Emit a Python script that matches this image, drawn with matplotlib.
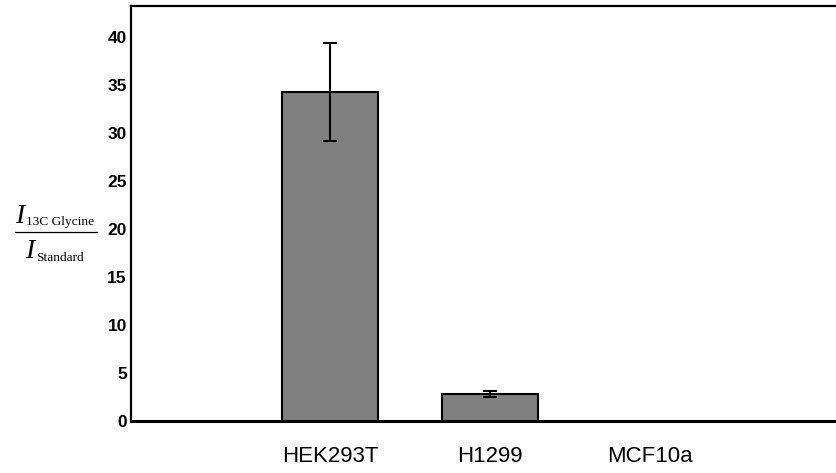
import matplotlib
matplotlib.use("Agg")
import matplotlib.pyplot as plt
from matplotlib.lines import Line2D

categories = ["HEK293T", "H1299", "MCF10a"]
values = [34.2, 2.8, 0.0]
errors = [5.1, 0.35, 0.0]
yticks = [0, 5, 10, 15, 20, 25, 30, 35, 40]

plt.rcParams['font.family'] = ['Liberation Sans', 'DejaVu Sans']

W, H = 836, 473
fig = plt.figure(figsize=(W/100, H/100), dpi=100)
ax = fig.add_axes([131/W, 1-421/H, 1-131/W, (421-6)/H])

x = [1, 2, 3]
ax.bar(x[:2], values[:2], width=0.6, color='#808080', edgecolor='black', linewidth=1.5,
       yerr=errors[:2], capsize=5, error_kw=dict(elinewidth=1.5, capthick=1.5, ecolor='black'))

ax.set_xlim(1 - 199/160, 1 + 506/160)
ax.set_ylim(0, 43.2)
ax.set_xticks(x)
ax.set_xticklabels(categories, fontsize=16)
ax.set_yticks(yticks)
ax.set_yticklabels([str(t) for t in yticks], fontsize=12.5, fontweight='bold')
ax.tick_params(axis='both', length=0)
ax.tick_params(axis='x', pad=18)
ax.tick_params(axis='y', pad=3)
ax.spines['right'].set_visible(False)
for s in ['left', 'top']:
    ax.spines[s].set_linewidth(1.6)
ax.spines['bottom'].set_linewidth(2.2)

# y-axis label as a stacked fraction
serif = ['Liberation Serif', 'DejaVu Serif']
fig.text(15/W, 1-223/H, 'I', fontsize=20, style='italic', family=serif,
         ha='left', va='baseline')
fig.text(26/W, 1-225/H, '13C Glycine', fontsize=9.6, family=serif,
         ha='left', va='baseline')
fig.text(25/W, 1-258/H, 'I', fontsize=20, style='italic', family=serif,
         ha='left', va='baseline')
fig.text(36/W, 1-261/H, 'Standard', fontsize=9.6, family=serif,
         ha='left', va='baseline')
fig.add_artist(Line2D([15/W, 97/W], [1-232/H, 1-232/H], color='black',
                      linewidth=0.9, transform=fig.transFigure))

fig.savefig('out.png', dpi=100)
